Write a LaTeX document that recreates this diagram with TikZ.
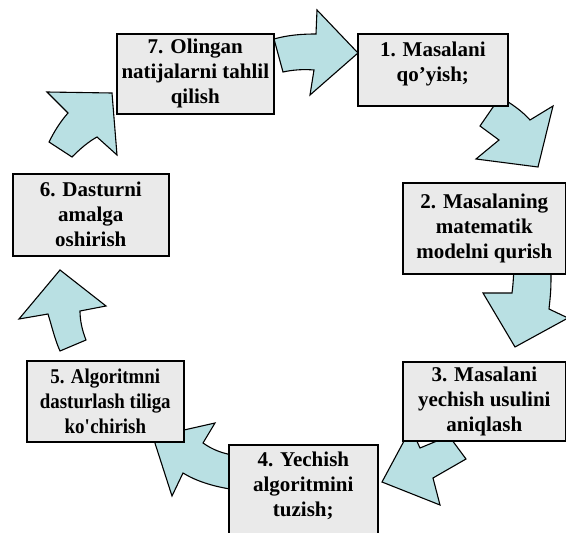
\documentclass[tikz,border=0pt]{standalone}
\usepackage{fontspec}
\setmainfont{Liberation Serif}
\newfontfamily\narrowserif{Liberation Serif}[FakeStretch=0.9]
\definecolor{boxgray}{HTML}{EAEAEA}
\definecolor{arrowblue}{HTML}{B9E0E3}

\begin{document}
\begin{tikzpicture}[
    x=1pt, y=-1pt,
    box/.style={draw=black, line width=1.6pt, fill=boxgray, anchor=north west, align=center, inner sep=2pt, font=\fontsize{21}{25}\selectfont\bfseries},
    blockarrow/.style={draw=black, line width=1.1pt, fill=arrowblue, line join=miter}
]
\useasboundingbox (0,0) rectangle (566,533);
\clip (0,0) rectangle (566,533);
\draw[blockarrow] (358,53) -- (310,95) -- (314,70) .. controls (303,69) and (292,70) .. (283,72) -- (274,39) .. controls (288,35) and (302,34) .. (316,34) -- (317,10) -- cycle;
\draw[blockarrow] (538,167) -- (476,159) -- (499,140) -- (480,126) -- (500,97) .. controls (512,104) and (522,111) .. (530,120) -- (553,106) -- cycle;
\draw[blockarrow] (515,347) -- (483,293) -- (512,293) .. controls (513,285) .. (514,268) -- (551,268) .. controls (551,290) .. (549,309) -- (568,318) -- cycle;
\draw[blockarrow] (382,482) -- (440,505) -- (433,478) -- (466,459) -- (449,436) -- (420,448) -- (411,428) -- cycle;
\draw[blockarrow] (153,437) -- (215,423) -- (203,443) .. controls (213,450) and (222,453) .. (232,455) -- (230,489) .. controls (212,486) and (196,481) .. (183,473) -- (172,496) -- cycle;
\draw[blockarrow] (60,270) -- (19,319) -- (48,314) .. controls (52,327) and (55,340) .. (60,351) -- (86,340) .. controls (82,330) and (80,320) .. (80,311) -- (106,306) -- cycle;
\draw[blockarrow] (112,93) -- (47,92) -- (68,113) .. controls (60,122) and (54,132) .. (49,142) -- (72,157) .. controls (80,149) and (88,142) .. (97,137) -- (117,155) -- cycle;
\node[box, minimum width=150pt, minimum height=72pt, text depth=17pt] (qoyish) at (357,33) {1. Masalani\\qo’yish;};
\node[box, minimum width=163pt, minimum height=91pt] (model) at (402,182) {2. Masalaning\\matematik\\modelni qurish};
\node[box, minimum width=163pt, minimum height=79pt] (usul) at (402,361) {3. Masalani\\yechish usulini\\aniqlash};
\node[box, minimum width=149pt, minimum height=100pt, text depth=22pt] (algoritm) at (228,444) {4. Yechish\\algoritmini\\tuzish;};
\node[box, minimum width=157pt, minimum height=81pt, font=\fontsize{21}{25}\selectfont\narrowserif\bfseries] (dastur) at (26,360) {5. Algoritmni\\dasturlash tiliga\\ko\textquotesingle chirish};
\node[box, minimum width=156pt, minimum height=82pt] (amalga) at (12,173) {6. Dasturni\\amalga\\oshirish};
\node[box, minimum width=157pt, minimum height=80pt] (tahlil) at (116,33) {7. Olingan\\natijalarni tahlil\\qilish};
\end{tikzpicture}
\end{document}
